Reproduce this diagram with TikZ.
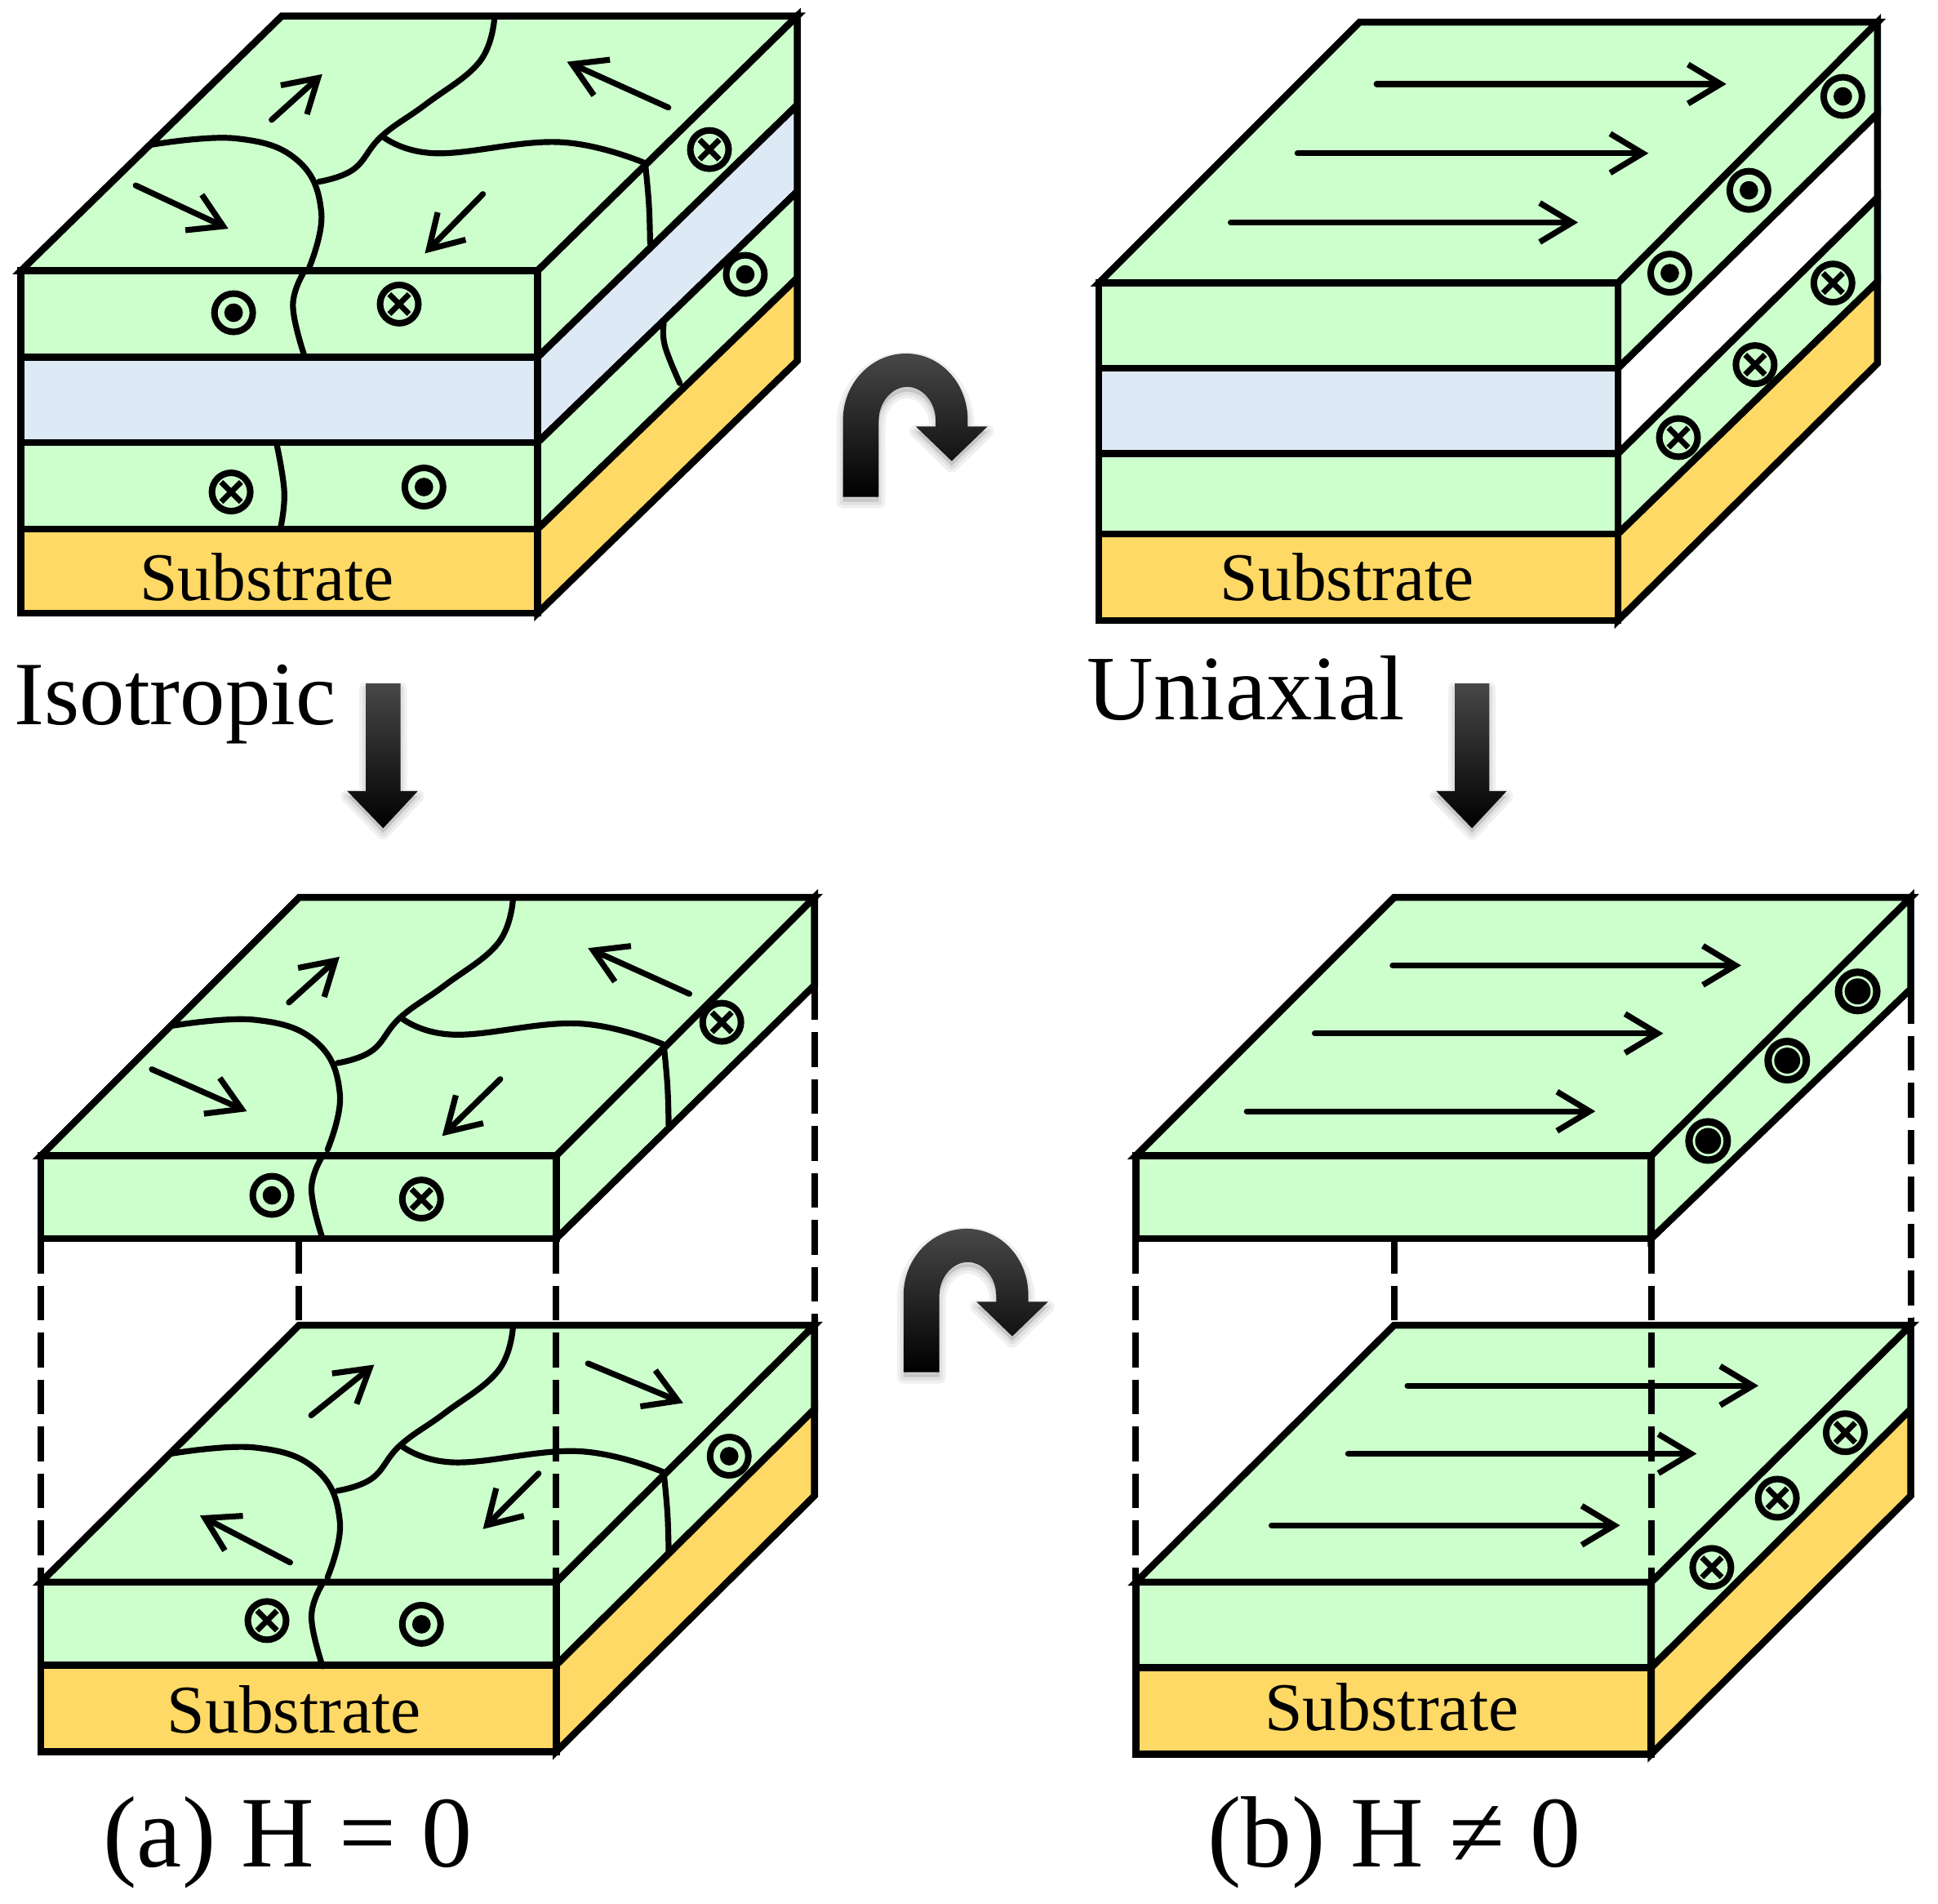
\documentclass[tikz,border=0pt]{standalone}
\usepackage{fontspec}
\setmainfont{Liberation Serif}
\usetikzlibrary{arrows.meta}
\definecolor{fm}{HTML}{CCFFCC}
\definecolor{spacer}{HTML}{DEE9F6}
\definecolor{subst}{HTML}{FFD966}
\tikzset{
  x=0.01cm,y=-0.01cm,
  edge/.style={draw=black,line width=1.6pt,line join=miter},
  fmface/.style={edge,fill=fm},
  spface/.style={edge,fill=spacer},
  whface/.style={edge,fill=white},
  suface/.style={edge,fill=subst},
  wall/.style={draw=black,line width=1.35pt,line cap=round},
  magarrow/.style={xshift=0.5pt,draw=black,line width=1.35pt,line cap=round,line join=round,
    -{Straight Barb[length=7.5pt,width=9pt,line width=1.35pt]}},
  guide/.style={draw=black,line width=1.5pt,dash pattern=on 8pt off 2.8pt},
  ringmark/.style={draw=black,line width=1.5pt,fill=fm},
  soft/.style={draw=black,fill=black,opacity=.06,line join=round},
  bigshade/.style={top color=black!72,middle color=black,bottom color=black},
  lab/.style={inner sep=0pt,anchor=base,text=black},
}
\newcommand{\subfont}{\fontsize{15.7}{18}\selectfont}
\newcommand{\labfont}{\fontsize{20.8}{24}\selectfont}
\newcommand{\unifont}{\fontsize{21.2}{24}\selectfont}
\newcommand{\capfont}{\fontsize{23.3}{27}\selectfont}
\newcommand{\outm}[2]{\draw[ringmark] (#1,#2) circle[radius=1.55mm]; \fill[black] (#1,#2) circle[radius=0.75mm];}
\newcommand{\outh}[2]{\draw[ringmark,line width=1.7pt] (#1,#2) circle[radius=1.55mm]; \fill[black] (#1,#2) circle[radius=1.05mm];}
\newcommand{\inm}[2]{\draw[ringmark] (#1,#2) circle[radius=1.55mm];
  \draw[black,line width=1.3pt] (#1-8,#2-8) -- (#1+8,#2+8) (#1-8,#2+8) -- (#1+8,#2-8);}
\newcommand{\topwalls}[2]{\begin{scope}[shift={(#1,#2)}]
  \draw[wall] plot[smooth,tension=.7] coordinates {(400,15) (388,50) (345,84) (309,110) (286,137) (258,147)};
  \draw[wall] plot[smooth,tension=.7] coordinates {(123,117) (191,112) (241,130) (260,172) (250,217)};
  \draw[wall] plot[smooth,tension=.7] coordinates {(309,110) (352,124) (453,115) (522,132)};
  \draw[wall] plot[smooth,tension=.7] coordinates {(522,132) (525,165) (526,197)};
  \end{scope}}
\newcommand{\frontwall}[2]{\begin{scope}[shift={(#1,#2)}]
  \draw[wall] plot[smooth,tension=.7] coordinates {(246,220) (237,247) (246,287)};
  \end{scope}}
\newcommand{\bigdown}[1]{\begin{scope}[shift={(#1,0)}]
  \def\p{(-14,553) -- (14,553) -- (14,640) -- (28,640) -- (0,670) -- (-29,640) -- (-14,640) -- cycle}
  \begin{scope}[shift={(0,4)}]
  \draw[soft,line width=3pt] \p; \draw[soft,line width=1.5pt] \p;
  \end{scope}
  \shade[bigshade] \p;
  \end{scope}}
\newcommand{\bigturn}[2]{\begin{scope}[shift={(#1,#2)}]
  \def\p{(682,402) -- (682,340) .. controls (682,310) and (705,286) .. (733,286) .. controls (761,286) and (783,310) .. (783,340) -- (783,345) -- (799,345) -- (770,373) -- (741,345) -- (757,345) -- (757,340) .. controls (757,325) and (746,313) .. (734,313) .. controls (722,313) and (711,325) .. (711,340) -- (711,402) -- cycle}
  \begin{scope}[shift={(0,4)}]
  \draw[soft,line width=3pt] \p; \draw[soft,line width=1.5pt] \p;
  \end{scope}
  \shade[bigshade] \p;
  \end{scope}}
\begin{document}
\begin{tikzpicture}
\useasboundingbox[fill=white] (0,0) rectangle (1568,1540);

% ---------- block 1 (top left)
\draw[fmface] (17,219) -- (228,13) -- (645,13) -- (435,219) -- cycle;
\draw[fmface] (435,219) -- (645,13) -- (645,85) -- (435,289) -- cycle;
\draw[spface] (435,289) -- (645,85) -- (645,155) -- (435,358) -- cycle;
\draw[fmface] (435,358) -- (645,155) -- (645,225) -- (435,428) -- cycle;
\draw[suface] (435,428) -- (645,225) -- (645,292) -- (435,496) -- cycle;
\draw[fmface] (17,219) rectangle (435,289);
\draw[spface] (17,289) rectangle (435,358);
\draw[fmface] (17,358) rectangle (435,428);
\draw[suface] (17,428) rectangle (435,496);
\topwalls{0}{0}
\frontwall{0}{0}
\draw[wall] plot[smooth,tension=.7] coordinates {(537,262) (538,280) (550,310)};
\draw[wall] plot[smooth,tension=.7] coordinates {(224,360) (230,398) (227,427)};
\draw[magarrow] (218,97) -- (259,60);
\draw[magarrow] (539,87) -- (457,50);
\draw[magarrow] (108,150) -- (183,185);
\draw[magarrow] (389,157) -- (342,205);
\outm{189}{253} \inm{323}{246} \inm{574}{121} \outm{603}{222} \inm{187}{398} \outm{343}{394}
\node[lab] (subA) at (216,486) {\subfont Substrate};

% ---------- block 2 (top right)
\draw[fmface] (889,229) -- (1100,18) -- (1519,18) -- (1309,229) -- cycle;
\draw[fmface] (1309,229) -- (1519,18) -- (1519,92) -- (1309,298) -- cycle;
\draw[whface] (1309,298) -- (1519,92) -- (1519,160) -- (1309,367) -- cycle;
\draw[fmface] (1309,367) -- (1519,160) -- (1519,228) -- (1309,432) -- cycle;
\draw[suface] (1309,432) -- (1519,228) -- (1519,294) -- (1309,502) -- cycle;
\draw[fmface] (889,229) rectangle (1309,298);
\draw[spface] (889,298) rectangle (1309,367);
\draw[fmface] (889,367) rectangle (1309,432);
\draw[suface] (889,432) rectangle (1309,502);
\draw[magarrow] (1112,68) -- (1395,68);
\draw[magarrow] (1048,124) -- (1332,124);
\draw[magarrow] (994,180) -- (1275,180);
\outm{1491}{78} \outm{1415}{154} \outm{1351}{221}
\inm{1483}{229} \inm{1420}{295} \inm{1358}{354}
\node[lab] (subB) at (1090,486) {\subfont Substrate};

% ---------- labels and big arrows
\node[lab,anchor=base west] (iso) at (11,586) {\labfont Isotropic};
\node[lab,anchor=base west] (uni) at (879,582) {\unifont Uniaxial};
\bigdown{310}
\bigdown{1191}
\bigturn{0}{0}
\bigturn{49}{708}

% ---------- block 4 (lower left, bottom)
\draw[fmface] (33,1280) -- (242,1072) -- (659,1072) -- (450,1280) -- cycle;
\draw[fmface] (450,1280) -- (659,1072) -- (659,1140) -- (450,1347) -- cycle;
\draw[suface] (450,1347) -- (659,1140) -- (659,1210) -- (450,1417) -- cycle;
\draw[fmface] (33,1280) rectangle (450,1347);
\draw[suface] (33,1347) rectangle (450,1417);
\topwalls{15}{1059}
\frontwall{15}{1061}
\draw[magarrow] (250,1145) -- (301,1104);
\draw[magarrow] (474,1103) -- (551,1135);
\draw[magarrow] (233,1264) -- (160,1226);
\draw[magarrow] (434,1192) -- (389,1237);
\inm{216}{1311} \outm{341}{1314} \outm{590}{1178}
\node[lab] (subC) at (238,1402) {\subfont Substrate};

% ---------- block 3 (lower left, top)
\draw[fmface] (33,935) -- (242,726) -- (659,726) -- (450,935) -- cycle;
\draw[fmface] (450,935) -- (659,726) -- (659,797) -- (450,1002) -- cycle;
\draw[fmface] (33,935) rectangle (450,1002);
\topwalls{15}{713}
\frontwall{15}{715}
\draw[magarrow] (232,811) -- (273,774);
\draw[magarrow] (556,804) -- (474,767);
\draw[magarrow] (121,865) -- (198,899);
\draw[magarrow] (403,873) -- (356,919);
\outm{220}{967} \inm{341}{970} \inm{584}{827}

% ---------- block 6 (lower right, bottom)
\draw[fmface] (919,1280) -- (1128,1072) -- (1546,1072) -- (1336,1280) -- cycle;
\draw[fmface] (1336,1280) -- (1546,1072) -- (1546,1140) -- (1336,1349) -- cycle;
\draw[suface] (1336,1349) -- (1546,1140) -- (1546,1210) -- (1336,1419) -- cycle;
\draw[fmface] (919,1280) rectangle (1336,1349);
\draw[suface] (919,1349) rectangle (1336,1419);
\draw[magarrow] (1137,1121) -- (1421,1121);
\draw[magarrow] (1089,1176) -- (1371,1176);
\draw[magarrow] (1027,1234) -- (1309,1234);
\inm{1493}{1159} \inm{1438}{1212} \inm{1385}{1268}
\node[lab] (subD) at (1126,1400) {\subfont Substrate};

% ---------- block 5 (lower right, top)
\draw[fmface] (919,935) -- (1128,726) -- (1546,726) -- (1336,935) -- cycle;
\draw[fmface] (1336,935) -- (1546,726) -- (1546,800) -- (1336,1002) -- cycle;
\draw[fmface] (919,935) rectangle (1336,1002);
\draw[magarrow] (1125,781) -- (1407,781);
\draw[magarrow] (1062,836) -- (1344,836);
\draw[magarrow] (1007,899) -- (1289,899);
\outh{1503}{802} \outh{1446}{858} \outh{1382}{923}

% ---------- dashed guides
\draw[guide] (33,1002) -- (33,1280);
\draw[guide] (242,1002) -- (242,1072);
\draw[guide] (450,1002) -- (450,1280);
\draw[guide] (659,797) -- (659,1072);
\draw[guide] (919,1002) -- (919,1280);
\draw[guide] (1128,1002) -- (1128,1072);
\draw[guide] (1336,1002) -- (1336,1280);
\draw[guide] (1546,800) -- (1546,1072);

% ---------- captions
\node[lab] (capA) at (233,1510) {\capfont (a) H = 0};
\node[lab] (capB) at (1128,1510) {\capfont (b) H ≠ 0};
\end{tikzpicture}
\end{document}
